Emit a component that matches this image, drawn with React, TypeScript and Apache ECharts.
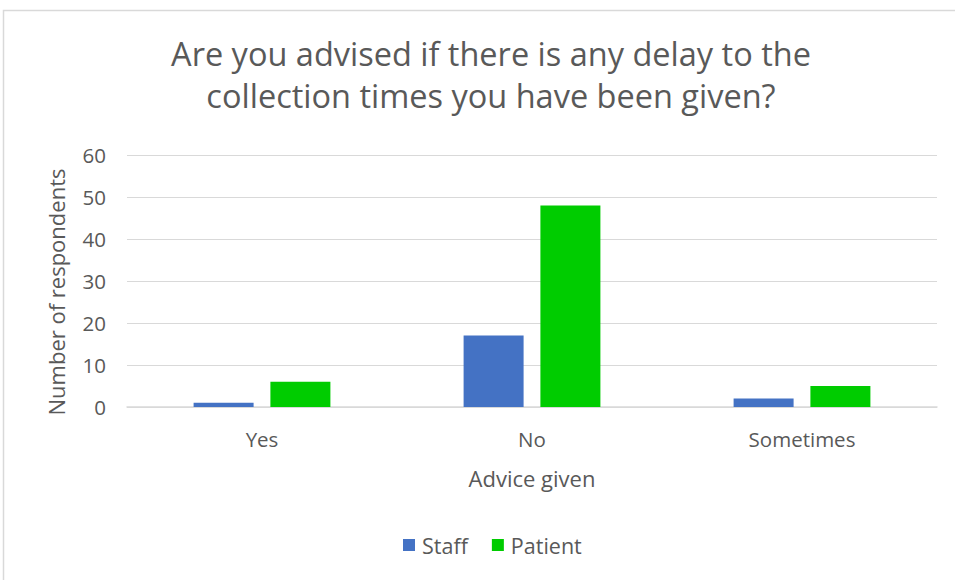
import React, { useEffect, useRef } from "react";
import * as echarts from "echarts";

const titleLines = ["Are you advised if there is any delay to the", "collection times you have been given?"];
const categories = ["Yes", "No", "Sometimes"];
const staff = [1, 17, 2];
const patient = [6, 48, 5];
const seriesNames = ["Staff", "Patient"];
const yAxisName = "Number of respondents";
const xAxisName = "Advice given";
const yTicks = { min: 0, max: 60, interval: 10 };

export default function App() {
  const ref = useRef<HTMLDivElement>(null);
  useEffect(() => {
    document.body.style.margin = "0";
    const chart = echarts.init(ref.current!, null, { renderer: "svg" });
    const font = "'Open Sans', 'Noto Sans', sans-serif";
    chart.setOption({
      animation: false,
      backgroundColor: "#ffffff",
      textStyle: { fontFamily: font },
      title: {
        text: titleLines.join("\n"),
        left: 486,
        top: 27,
        textAlign: "center",
        textStyle: { fontSize: 32.5, fontWeight: "normal", color: "#595959", lineHeight: 42, fontFamily: font },
      },
      graphic: [
        {
          type: "rect",
          shape: { x: 3.5, y: 10.5, width: 1000, height: 700 },
          style: { fill: "none", stroke: "#d9d9d9", lineWidth: 1.5 },
          silent: true,
        },
        {
          type: "text",
          x: 56,
          y: 292,
          rotation: Math.PI / 2,
          style: {
            text: yAxisName,
            fontSize: 22,
            fill: "#595959",
            fontFamily: font,
            align: "center",
            verticalAlign: "middle",
          },
          silent: true,
        },
      ],
      legend: {
        bottom: 19,
        left: 398,
        itemWidth: 12,
        itemHeight: 12,
        itemGap: 24,
        icon: "rect",
        textStyle: { fontSize: 21.5, color: "#595959", fontFamily: font, padding: [0, 0, 0, 2] },
        data: seriesNames,
      },
      grid: { left: 127, right: 18, top: 155, bottom: 173 },
      xAxis: {
        type: "category",
        data: categories,
        name: xAxisName,
        nameLocation: "middle",
        nameGap: 60,
        nameTextStyle: { fontSize: 22, color: "#595959", fontFamily: font },
        axisLine: { lineStyle: { color: "#d9d9d9", width: 1.5 } },
        axisTick: { show: false },
        axisLabel: { fontSize: 20.5, color: "#595959", margin: 21, fontFamily: font },
      },
      yAxis: {
        type: "value",
        min: yTicks.min,
        max: yTicks.max,
        interval: yTicks.interval,
        axisLine: { show: false },
        axisTick: { show: false },
        axisLabel: { fontSize: 20.5, color: "#595959", margin: 21, fontFamily: font },
        splitLine: { lineStyle: { color: "#d9d9d9", width: 1 } },
      },
      series: [
        {
          name: seriesNames[0],
          type: "bar",
          data: staff,
          barWidth: 60,
          barGap: "28%",
          itemStyle: { color: "#4472c4" },
        },
        {
          name: seriesNames[1],
          type: "bar",
          data: patient,
          barWidth: 60,
          itemStyle: { color: "#00cc00" },
        },
      ],
    });
    return () => chart.dispose();
  }, []);
  return <div ref={ref} style={{ width: 955, height: 580 }} />;
}
